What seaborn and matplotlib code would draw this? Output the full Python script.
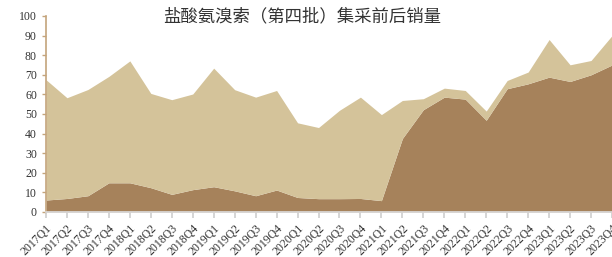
import pandas as pd
import matplotlib
matplotlib.use("Agg")
import matplotlib.pyplot as plt
import seaborn as sns

# quarterly labels 2017Q1 .. 2023Q4
quarters = [f"{y}Q{q}" for y in range(2017, 2024) for q in range(1, 5)]

# bottom series (dark)
dark_vals = [6.1, 6.9, 8.3, 14.9, 14.9, 12.4, 9.0, 11.4, 12.9, 10.8, 8.3, 11.2,
             7.4, 6.8, 6.8, 6.9, 5.8, 37.5, 52.2, 58.6, 57.6, 46.8, 62.9, 65.4,
             68.8, 66.6, 70.0, 75.0]
# totals (top of light band)
total_vals = [67.5, 58.3, 62.5, 69.2, 77.1, 60.5, 57.3, 60.2, 73.4, 62.4, 58.6, 62.0,
              45.5, 43.1, 51.9, 58.6, 49.7, 56.9, 57.8, 63.2, 62.0, 51.5, 67.1, 71.4,
              88.0, 75.1, 77.3, 90.0]
light_vals = [t - d for t, d in zip(total_vals, dark_vals)]

title = "盐酸氨溴索（第四批）集采前后销量"

DARK = "#A6825B"
LIGHT = "#D4C39A"
SPINE = "#C4A47C"

sns.set_theme(style="white")
plt.rcParams["font.family"] = ["Liberation Serif", "DejaVu Serif"]

df = pd.DataFrame({"quarter": quarters, "dark": dark_vals, "light": light_vals})
x = range(len(df))

fig = plt.figure(figsize=(6.12, 2.57), dpi=100)
ax = fig.add_axes([46 / 612, 1 - 212 / 257, 1 - 46 / 612, 196 / 257])

ax.stackplot(x, df["dark"], df["light"], colors=[DARK, LIGHT], linewidth=0)

ax.set_xlim(0, len(df) - 1 - 0.2)
ax.set_ylim(0, 100)
ax.set_yticks(range(0, 101, 10))
ax.set_xticks(list(x))
ax.set_xticklabels(df["quarter"], rotation=45, ha="right", rotation_mode="anchor",
                   fontsize=8.5, color="#333333")
ax.tick_params(axis="y", labelsize=8.5, labelcolor="#333333", length=3,
               color=SPINE, direction="out", left=True, width=1)
ax.tick_params(axis="x", length=4, color="#D0D0D0", direction="out", bottom=True)

sns.despine(ax=ax, top=True, right=True)
ax.spines["left"].set_color(SPINE)
ax.spines["left"].set_linewidth(1.2)
ax.spines["bottom"].set_color("#D9D9D9")

fig.text(302 / 612, 1 - 16 / 257, title, ha="center", va="center", fontsize=12.5,
         color="#333333", family=["Noto Sans CJK SC", "DejaVu Sans"])

fig.savefig("out.png", dpi=100)
